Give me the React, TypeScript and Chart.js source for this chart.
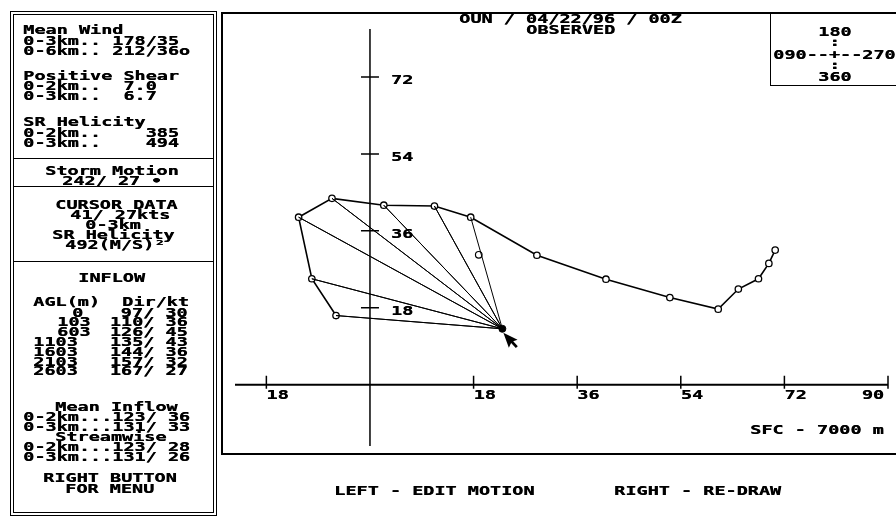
import React, { useEffect, useRef } from "react";
import { Chart, registerables } from "chart.js";

Chart.register(...registerables);

// ---- data (knots, u = east, v = north) ----
const HODO_U = [-5.9, -10.1, -12.4, -6.6, 2.4, 11.2, 17.5, 29.0, 41.0, 52.1, 60.5, 64.0, 67.5, 69.3, 70.4];
const HODO_V = [16.2, 24.8, 39.2, 43.6, 42.0, 41.8, 39.2, 30.3, 24.7, 20.4, 17.7, 22.4, 24.8, 28.4, 31.5];
const INFLOW_LEVELS = 7;
const STORM_U = [23.0];
const STORM_V = [13.1];
const MEANWIND_U = [18.9];
const MEANWIND_V = [30.4];
const X_TICKS = [-18, 18, 36, 54, 72, 90];
const Y_TICKS = [18, 36, 54, 72];
const X_RANGE = [-23.45, 90];
const Y_RANGE = [-14.3, 83.2];

// ---- texts ----
const TITLE = "OUN / 04/22/96 / 00Z";
const SUBTITLE = "OBSERVED";
const MEAN_WIND = ["Mean Wind", "0-3km.. 178/35", "0-6km.. 212/36o"];
const SHEAR = ["Positive Shear", "0-2km..  7.0", "0-3km..  6.7"];
const HELICITY = ["SR Helicity", "0-2km..    385", "0-3km..    494"];
const STORM_TXT = ["Storm Motion", "242/ 27", "•"];
const CURSOR_TXT = ["CURSOR DATA", "41/ 27kts", "0-3km", "SR Helicity", "492(M/S)²"];
const INFLOW_HEAD = ["INFLOW", "AGL(m)  Dir/kt"];
const INFLOW_AGL = ["0", "103", "603", "1103", "1603", "2103", "2603"];
const INFLOW_DIRKT = ["97/ 30", "110/ 36", "126/ 45", "135/ 43", "144/ 36", "157/ 32", "167/ 27"];
const MEAN_INFLOW = ["Mean Inflow", "0-2km...123/ 36", "0-3km...131/ 33", "Streamwise", "0-2km...123/ 28", "0-3km...131/ 26"];
const MENU_TXT = ["RIGHT BUTTON", "FOR MENU"];
const COMPASS = ["180", "090--+--270", "360"];
const SFC_TXT = "SFC - 7000 m";
const BOTTOM_TXT = ["LEFT - EDIT MOTION", "RIGHT - RE-DRAW"];

const FONT = '"DejaVu Sans Mono", monospace';
const FS = 12;
const SX = 1.54;

function T({ x, y, children, right }: { x: number; y: number; children: any; right?: boolean }) {
  const style: any = {
    position: "absolute",
    top: y - 1.4,
    font: `bold ${FS}px ${FONT}`,
    lineHeight: `${FS}px`,
    whiteSpace: "pre",
    color: "#000",
    transform: `scaleX(${SX})`,
    textShadow: "0.35px 0 0 #000",
  };
  if (right) {
    style.right = 896 - x;
    style.transformOrigin = "100% 0";
  } else {
    style.left = x;
    style.transformOrigin = "0 0";
  }
  return <div style={style}>{children}</div>;
}

function Box({ l, t, r, b, w = 1, sides }: { l: number; t: number; r: number; b: number; w?: number; sides?: string }) {
  const bs = `${w}px solid #000`;
  const s: any = { position: "absolute", left: l, top: t, width: r - l, height: b - t, boxSizing: "border-box" };
  if (!sides) s.border = bs;
  else {
    if (sides.includes("t")) s.borderTop = bs;
    if (sides.includes("b")) s.borderBottom = bs;
    if (sides.includes("l")) s.borderLeft = bs;
    if (sides.includes("r")) s.borderRight = bs;
  }
  return <div style={s} />;
}

const axesPlugin = {
  id: "hodoAxes",
  beforeDatasetsDraw(chart: any) {
    const { ctx, chartArea: a } = chart;
    const xs = chart.scales.x;
    const ys = chart.scales.y;
    const x0 = xs.getPixelForValue(0);
    const y0 = ys.getPixelForValue(0);
    ctx.save();
    ctx.strokeStyle = "#000";
    ctx.fillStyle = "#000";
    ctx.lineWidth = 2;
    ctx.beginPath();
    ctx.moveTo(a.left, y0);
    ctx.lineTo(a.right, y0);
    ctx.stroke();
    ctx.lineWidth = 1.5;
    ctx.beginPath();
    ctx.moveTo(x0, a.top);
    ctx.lineTo(x0, a.bottom);
    ctx.stroke();
    ctx.beginPath();
    X_TICKS.forEach((v) => {
      const px = xs.getPixelForValue(v);
      ctx.moveTo(px, y0 - 9);
      ctx.lineTo(px, y0 + 4);
    });
    Y_TICKS.forEach((v) => {
      const py = ys.getPixelForValue(v);
      ctx.moveTo(x0 - 9, py);
      ctx.lineTo(x0 + 9, py);
    });
    ctx.stroke();
    ctx.font = `bold ${FS}px ${FONT}`;
    ctx.textBaseline = "alphabetic";
    X_TICKS.forEach((v, i) => {
      const px = xs.getPixelForValue(v);
      const last = i === X_TICKS.length - 1;
      ctx.save();
      ctx.translate(last ? px - 4 : px, y0 + 14);
      ctx.scale(SX, 1);
      ctx.textAlign = last ? "right" : "left";
      ctx.fillText(String(Math.abs(v)), 0, 0);
      ctx.fillText(String(Math.abs(v)), 0.25, 0);
      ctx.restore();
    });
    Y_TICKS.forEach((v) => {
      const py = ys.getPixelForValue(v);
      ctx.save();
      ctx.translate(x0 + 21, py + 7.3);
      ctx.scale(SX, 1);
      ctx.textAlign = "left";
      ctx.fillText(String(v), 0, 0);
      ctx.fillText(String(v), 0.25, 0);
      ctx.restore();
    });
    ctx.restore();
  },
  afterDatasetsDraw(chart: any) {
    const { ctx } = chart;
    const px = chart.scales.x.getPixelForValue(STORM_U[0]);
    const py = chart.scales.y.getPixelForValue(STORM_V[0]);
    ctx.save();
    ctx.translate(px + 1, py + 4);
    ctx.rotate(-0.35);
    ctx.fillStyle = "#000";
    ctx.beginPath();
    ctx.moveTo(0, 0);
    ctx.lineTo(0, 16);
    ctx.lineTo(3.8, 12.2);
    ctx.lineTo(6.5, 18.5);
    ctx.lineTo(9, 17.5);
    ctx.lineTo(6.4, 11.3);
    ctx.lineTo(11, 11.3);
    ctx.closePath();
    ctx.fill();
    ctx.restore();
  },
};

function Hodograph() {
  const ref = useRef<HTMLCanvasElement | null>(null);
  useEffect(() => {
    if (!ref.current) return;
    const hodo = HODO_U.map((u, i) => ({ x: u, y: HODO_V[i] }));
    const fan = HODO_U.slice(0, INFLOW_LEVELS).flatMap((u, i) => [
      { x: STORM_U[0], y: STORM_V[0] },
      { x: u, y: HODO_V[i] },
    ]);
    const chart = new Chart(ref.current, {
      type: "scatter",
      data: {
        datasets: [
          {
            data: fan,
            showLine: true,
            borderColor: "#000",
            borderWidth: 1,
            pointRadius: 0,
          },
          {
            data: hodo,
            showLine: true,
            borderColor: "#000",
            borderWidth: 1.6,
            pointRadius: 3.2,
            pointBorderWidth: 1.3,
            pointBackgroundColor: "#fff",
            pointBorderColor: "#000",
          },
          {
            data: MEANWIND_U.map((u, i) => ({ x: u, y: MEANWIND_V[i] })),
            pointRadius: 3.3,
            pointBorderWidth: 1.2,
            pointBackgroundColor: "#fff",
            pointBorderColor: "#000",
          },
          {
            data: STORM_U.map((u, i) => ({ x: u, y: STORM_V[i] })),
            pointRadius: 3.5,
            pointBackgroundColor: "#000",
            pointBorderColor: "#000",
          },
        ],
      },
      options: {
        animation: false,
        responsive: true,
        maintainAspectRatio: false,
        events: [],
        layout: { padding: { left: 235, right: 8, top: 29, bottom: 73 } },
        plugins: { legend: { display: false }, tooltip: { enabled: false } },
        scales: {
          x: { type: "linear", min: X_RANGE[0], max: X_RANGE[1], display: false },
          y: { type: "linear", min: Y_RANGE[0], max: Y_RANGE[1], display: false },
        },
      },
      plugins: [axesPlugin],
    });
    return () => chart.destroy();
  }, []);
  return (
    <div style={{ position: "absolute", left: 0, top: 0, width: 896, height: 519 }}>
      <canvas ref={ref} />
    </div>
  );
}

export default function App() {
  const aglLeft = [72, 57, 57, 33, 33, 33, 33];
  return (
    <div style={{ position: "absolute", left: 0, top: 0, width: 896, height: 519, overflow: "hidden", background: "#fff" }}>
      {/* left panel frames */}
      <Box l={10} t={11} r={217} b={516} w={1} />
      <Box l={13} t={14} r={214} b={513} w={1.5} />
      <Box l={13} t={158} r={214} b={160} w={1.5} sides="t" />
      <Box l={13} t={186} r={214} b={188} w={1.5} sides="t" />
      <Box l={13} t={261} r={214} b={263} w={1.5} sides="t" />
      {/* chart frame */}
      <Box l={221} t={12} r={1200} b={455} w={2} />
      <Box l={770} t={12} r={1200} b={86} w={1.5} />

      <Hodograph />

      {MEAN_WIND.map((s, i) => <T key={"mw" + i} x={22.7} y={[25, 36.7, 46.7][i]}>{s}</T>)}
      {SHEAR.map((s, i) => <T key={"sh" + i} x={22.7} y={[71.7, 81.7, 91.7][i]}>{s}</T>)}
      {HELICITY.map((s, i) => <T key={"he" + i} x={22.7} y={[117, 128, 138][i]}>{s}</T>)}
      <T x={45} y={166.7}>{STORM_TXT[0]}</T>
      <T x={61.7} y={176.7}>{STORM_TXT[1]}<span style={{ marginLeft: 7 }}>{STORM_TXT[2]}</span></T>
      {CURSOR_TXT.map((s, i) => (
        <T key={"cu" + i} x={[55, 70, 85, 52, 65][i]} y={[200.7, 210.3, 220.7, 230.3, 240.3][i]}>{s}</T>
      ))}
      <T x={78} y={273}>{INFLOW_HEAD[0]}</T>
      <T x={33} y={297}>{INFLOW_HEAD[1]}</T>
      {INFLOW_AGL.map((s, i) => <T key={"ag" + i} x={aglLeft[i]} y={308 + i * 9.8}>{s}</T>)}
      {INFLOW_DIRKT.map((s, i) => <T key={"dk" + i} x={187.5} right y={308 + i * 9.8}>{s}</T>)}
      {MEAN_INFLOW.map((s, i) => (
        <T key={"mi" + i} x={[55, 22.7, 22.7, 55, 22.7, 22.7][i]} y={402 + i * 10}>{s}</T>
      ))}
      <T x={43} y={473}>{MENU_TXT[0]}</T>
      <T x={65} y={484}>{MENU_TXT[1]}</T>

      <T x={459} y={14}>{TITLE}</T>
      <T x={526} y={25}>{SUBTITLE}</T>

      <T x={818} y={27}>{COMPASS[0]}</T>
      <T x={829} y={37.5}>{":"}</T>
      <T x={773} y={50}>{COMPASS[1]}</T>
      <T x={829} y={60}>{":"}</T>
      <T x={818} y={72}>{COMPASS[2]}</T>

      <T x={750} y={425}>{SFC_TXT}</T>
      <T x={334} y={486}>{BOTTOM_TXT[0]}</T>
      <T x={614} y={486}>{BOTTOM_TXT[1]}</T>
    </div>
  );
}
